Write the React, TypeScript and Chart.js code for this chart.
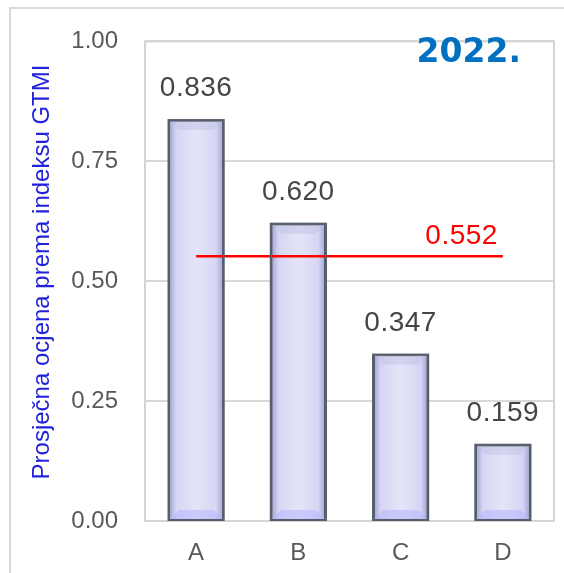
import React, { useEffect, useRef } from "react";
import { Chart, registerables } from "chart.js";

Chart.register(...registerables);

const categories = ["A", "B", "C", "D"];
const scores = [0.836, 0.62, 0.347, 0.159];
const averageValue = 0.552;
const averageLine = [0.552, 0.552, 0.552, 0.552];
const yTicks = [0, 0.25, 0.5, 0.75, 1.0];
const titleText = "2022.";
const yAxisTitle = "Prosječna ocjena prema indeksu GTMI";

const FONT = "'Liberation Sans', Arial, sans-serif";

export default function App() {
  const ref = useRef<HTMLCanvasElement | null>(null);

  useEffect(() => {
    document.body.style.margin = "0";
    const canvas = ref.current;
    if (!canvas) return;

    const decor = {
      id: "decor",
      beforeDraw(chart: any) {
        const c = chart.ctx;
        c.save();
        c.strokeStyle = "#d9d9d9";
        c.lineWidth = 2;
        c.beginPath();
        c.moveTo(10, 573);
        c.lineTo(10, 8);
        c.lineTo(564, 8);
        c.stroke();
        c.restore();
      },
      beforeDatasetsDraw(chart: any) {
        const a = chart.chartArea;
        const c = chart.ctx;
        c.save();
        c.strokeStyle = "#d4d4d4";
        c.lineWidth = 2;
        c.strokeRect(a.left, a.top, a.right - a.left, a.bottom - a.top);
        c.restore();
      },
      afterDatasetsDraw(chart: any) {
        const c = chart.ctx;
        const meta = chart.getDatasetMeta(0);
        c.save();
        meta.data.forEach((bar: any, i: number) => {
          const half = bar.width / 2;
          const l = bar.x - half + 1;
          const r = bar.x + half - 1;
          const t = bar.y + 1;
          const b = bar.base - 1;
          const d = Math.min(9, (b - t) / 3);
          c.fillStyle = "rgba(190,190,225,0.45)";
          c.beginPath();
          c.moveTo(l, t);
          c.lineTo(r, t);
          c.lineTo(r - d, t + d);
          c.lineTo(l + d, t + d);
          c.closePath();
          c.fill();
          c.fillStyle = "rgba(180,180,255,0.55)";
          c.beginPath();
          c.moveTo(l, b);
          c.lineTo(r, b);
          c.lineTo(r - d, b - d);
          c.lineTo(l + d, b - d);
          c.closePath();
          c.fill();
          c.strokeStyle = "#56606a";
          c.lineWidth = 2;
          c.strokeRect(bar.x - half, bar.y, bar.width, bar.base - bar.y);
          c.fillStyle = "#454545";
          c.font = `28px ${FONT}`;
          c.textAlign = "center";
          c.textBaseline = "alphabetic";
          c.letterSpacing = "0.5px";
          c.fillText(scores[i].toFixed(3), bar.x, bar.y - 24);
        });
        const lineMeta = chart.getDatasetMeta(1);
        const last = lineMeta.data[lineMeta.data.length - 1];
        if (last) {
          c.fillStyle = "#ff0000";
          c.font = `28px ${FONT}`;
          c.textAlign = "right";
          c.fillText(averageValue.toFixed(3), last.x - 5, last.y - 12);
        }
        c.letterSpacing = "0px";
        c.fillStyle = "#0070c0";
        c.font = `bold 33px 'DejaVu Sans', sans-serif`;
        c.textAlign = "right";
        c.textBaseline = "alphabetic";
        c.fillText(titleText, 521, 62);
        c.save();
        c.translate(49, 272);
        c.rotate(-Math.PI / 2);
        c.fillStyle = "#2222dd";
        c.font = `24px ${FONT}`;
        c.textAlign = "center";
        c.textBaseline = "alphabetic";
        c.fillText(yAxisTitle, 0, 0);
        c.restore();
        c.restore();
      },
    };

    const chart = new Chart(canvas, {
      type: "bar",
      data: {
        labels: categories,
        datasets: [
          {
            type: "bar",
            data: scores,
            backgroundColor: (ctx: any) => {
              const ch = ctx.chart;
              const xs = ch.scales?.x;
              if (!xs || ctx.dataIndex === undefined) return "#e2e2f7";
              const cx = xs.getPixelForValue(ctx.dataIndex);
              const w = ((xs.right - xs.left) / categories.length) * 0.54;
              if (!isFinite(cx) || !isFinite(w) || w <= 0) return "#e2e2f7";
              const g = ch.ctx.createLinearGradient(cx - w / 2, 0, cx + w / 2, 0);
              g.addColorStop(0, "#9c9cd8");
              g.addColorStop(0.14, "#d6d6f4");
              g.addColorStop(0.5, "#e4e4f8");
              g.addColorStop(0.86, "#d6d6f4");
              g.addColorStop(1, "#9c9cd8");
              return g;
            },
            borderColor: "#56606a",
            borderWidth: 2,
            categoryPercentage: 1,
            barPercentage: 0.54,
            order: 2,
          } as any,
          {
            type: "line",
            data: averageLine,
            borderColor: "#ff0000",
            borderWidth: 2.5,
            pointRadius: 0,
            fill: false,
            order: 1,
          } as any,
        ],
      },
      options: {
        animation: false,
        responsive: false,
        devicePixelRatio: 1,
        layout: { padding: { top: 41, right: 10, left: 0, bottom: 0 } },
        plugins: {
          legend: { display: false },
          tooltip: { enabled: false },
          title: { display: false },
        },
        scales: {
          x: {
            grid: { display: false, drawTicks: false },
            border: { display: false },
            ticks: {
              color: "#595959",
              font: { family: FONT, size: 24 },
              padding: 18,
            },
            afterFit: (s: any) => {
              s.height = 52;
            },
          },
          y: {
            min: 0,
            max: 1,
            grid: { color: "#d9d9d9", lineWidth: 2, drawTicks: false },
            border: { display: false },
            afterBuildTicks: (s: any) => {
              s.ticks = yTicks.map((v) => ({ value: v }));
            },
            ticks: {
              color: "#595959",
              font: { family: FONT, size: 24 },
              padding: 27,
              callback: (v: any) => Number(v).toFixed(2),
            },
            afterFit: (s: any) => {
              s.width = 145;
            },
          },
        },
      },
      plugins: [decor],
    });
    return () => chart.destroy();
  }, []);

  return (
    <div style={{ position: "absolute", left: 0, top: 0, width: 564, height: 573 }}>
      <canvas ref={ref} width={564} height={573} style={{ width: 564, height: 573, display: "block" }} />
    </div>
  );
}
